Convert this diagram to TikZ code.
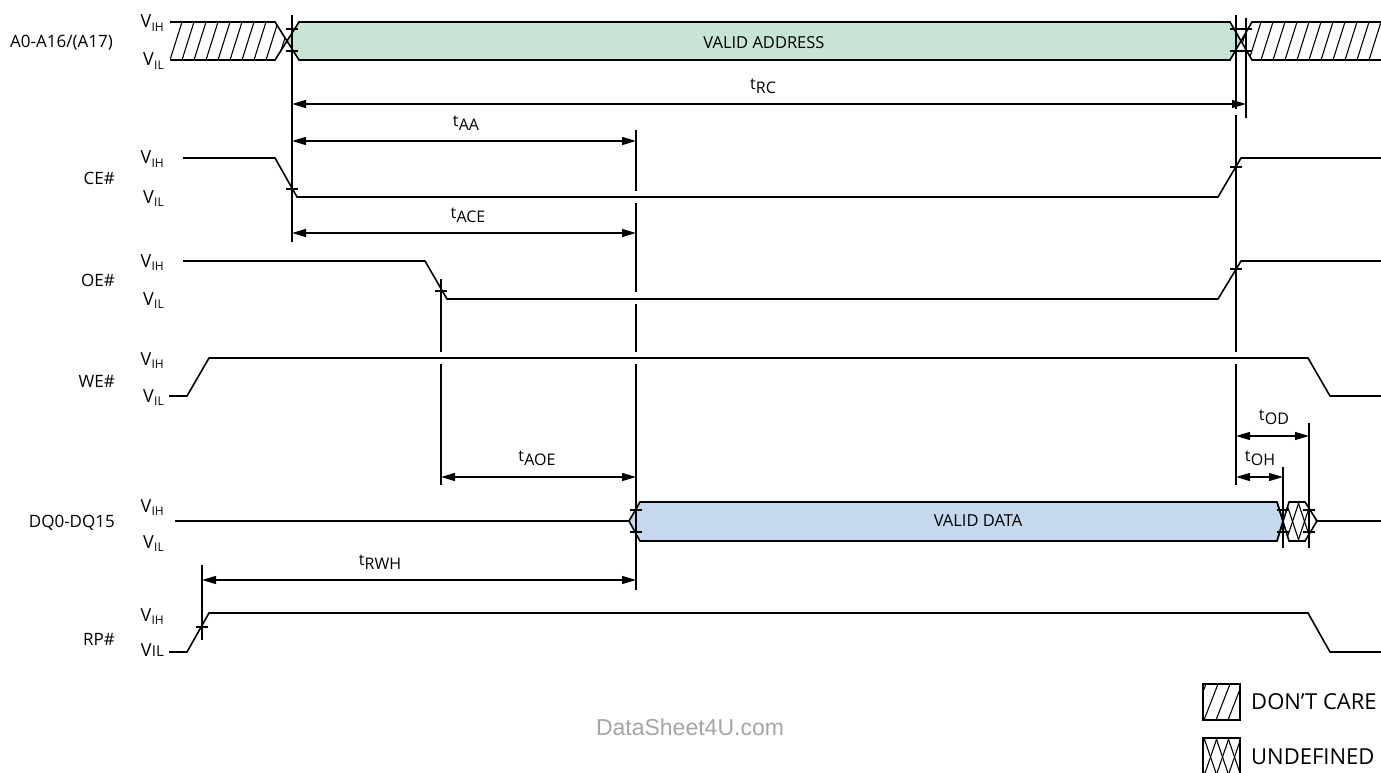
\documentclass[tikz,border=0pt]{standalone}
\usepackage{fontspec}
\setmainfont{Open Sans}
\newfontfamily\wmfont{Liberation Sans}
\usetikzlibrary{arrows.meta}
\definecolor{addrgreen}{RGB}{200,228,212}
\definecolor{datablue}{RGB}{197,216,238}
\definecolor{wmgray}{RGB}{165,165,165}
\newcommand\VV[1]{V\kern0.3pt\raisebox{-3.5pt}{\fontsize{12}{13}\selectfont #1}}
\newcommand\Tt[1]{t\kern0.3pt\raisebox{-4.5pt}{#1}}
\newcommand\tickat[2]{\draw[tickln] (#1,#2) ++(-6,0) -- ++(12,0);}
\begin{document}
\begin{tikzpicture}[x=1pt,y=-1pt,
  sig/.style={line width=1.6pt, line join=miter},
  tline/.style={line width=1.6pt},
  tickln/.style={line width=1.2pt},
  hatchln/.style={line width=1.1pt},
  dim/.style={line width=1.3pt, {Triangle[length=14pt,width=8pt]}-{Triangle[length=14pt,width=8pt]}},
  signame/.style={anchor=east, inner sep=0pt, font=\fontsize{17}{20}\selectfont},
  vlab/.style={anchor=base east, inner sep=0pt, font=\fontsize{18}{20}\selectfont},
  tlab/.style={anchor=south, inner sep=0pt, font=\fontsize{16}{18}\selectfont},
  boxtext/.style={inner sep=0pt, font=\fontsize{16.5}{18}\selectfont},
  legtext/.style={anchor=west, inner sep=0pt, font=\fontsize{22}{25}\selectfont},
]
\useasboundingbox (0,0) rectangle (1381,773);

% ---------------- signal names and levels ----------------
\node[signame] (nA)  at (113,43)  {A0-A16/(A17)};
\node[signame] (nCE) at (115,178) {CE\#};
\node[signame] (nOE) at (115,280) {OE\#};
\node[signame] (nWE) at (115,381) {WE\#};
\node[signame] (nDQ) at (115,523) {DQ0-DQ15};
\node[signame] (nRP) at (115,639) {RP\#};

\node[vlab] (vA1) at (164,28)  {\VV{IH}};
\node[vlab] (vA2) at (164,66)  {\VV{IL}};
\node[vlab] (vC1) at (164,164) {\VV{IH}};
\node[vlab] (vC2) at (164,203) {\VV{IL}};
\node[vlab] (vO1) at (164,267) {\VV{IH}};
\node[vlab] (vO2) at (164,305) {\VV{IL}};
\node[vlab] (vW1) at (164,365) {\VV{IH}};
\node[vlab] (vW2) at (164,402) {\VV{IL}};
\node[vlab] (vD1) at (164,512) {\VV{IH}};
\node[vlab] (vD2) at (164,548) {\VV{IL}};
\node[vlab] (vR1) at (164,621) {\VV{IH}};
\node[vlab] (vR2) at (164,656) {V\kern0.3pt{\fontsize{15}{16}\selectfont IL}};

% ---------------- address bus ----------------
\fill[addrgreen] (299,22) -- (1230,22) -- (1241,41) -- (1230,60) -- (299,60) -- (287,41) -- cycle;
\begin{scope}
  \clip (170,22) -- (275,22) -- (287,41) -- (275,60) -- (170,60) -- cycle;
  \foreach \x in {158,170,...,290} \draw[hatchln] (\x,60) -- (\x+12,22);
\end{scope}
\begin{scope}
  \clip (1252,22) -- (1381,22) -- (1381,60) -- (1252,60) -- (1241,41) -- cycle;
  \foreach \x in {1237,1249,...,1390} \draw[hatchln] (\x,60) -- (\x+12,22);
\end{scope}
\draw[sig] (170,22) -- (275,22) -- (299,60) -- (1230,60) -- (1252,22) -- (1381,22);
\draw[sig] (170,60) -- (275,60) -- (299,22) -- (1230,22) -- (1252,60) -- (1381,60);
\node[boxtext] (tAddr) at (764,43) {VALID ADDRESS};

% ---------------- CE#, OE#, WE# ----------------
\draw[sig] (183,158) -- (275,158) -- (297,197) -- (1218,197) -- (1241,158) -- (1381,158);
\draw[sig] (183,261) -- (425,261) -- (447,299) -- (1218,299) -- (1241,261) -- (1381,261);
\draw[sig] (169,396) -- (187,396) -- (209,358) -- (1308,358) -- (1330,396) -- (1381,396);

% ---------------- data bus ----------------
\draw[sig] (175,521) -- (629,521);
\filldraw[fill=datablue, sig] (629,521) -- (640,502) -- (1277,502) -- (1283,521) -- (1277,541) -- (640,541) -- cycle;
\node[boxtext] (tData) at (978,521) {VALID DATA};
\begin{scope}
  \clip (1283,521) -- (1289,502) -- (1305,502) -- (1317,521) -- (1305,541) -- (1289,541) -- cycle;
  \foreach \x in {1262,1274,...,1330} {
    \draw[hatchln] (\x,541) -- (\x+13,502);
    \draw[hatchln] (\x,502) -- (\x+13,541);
  }
\end{scope}
\draw[sig] (1277,502) -- (1289,541) -- (1305,541) -- (1317,521) -- (1305,502) -- (1289,502) -- (1277,541);
\draw[sig] (1317,521) -- (1381,521);

% ---------------- RP# ----------------
\draw[sig] (169,652) -- (187,652) -- (209,613) -- (1308,613) -- (1330,652) -- (1381,652);

% ---------------- timing reference lines ----------------
\coordinate (r1a) at (292,15);   \coordinate (r1b) at (292,242);
\draw[tline] (r1a) -- (r1b);
\draw[tline] (636,130) -- (636,191);
\draw[tline] (636,203) -- (636,292);
\draw[tline] (636,304) -- (636,352);
\draw[tline] (636,364) -- (636,590);
\draw[tline] (441,279) -- (441,352);
\draw[tline] (441,364) -- (441,485);
\draw[tline] (1236,15) -- (1236,109);
\draw[tline] (1236,115) -- (1236,352);
\draw[tline] (1236,364) -- (1236,485);
\draw[tline] (1246,18) -- (1246,118);
\draw[tline] (1283,467) -- (1283,548);
\draw[tline] (1309,423) -- (1309,548);
\draw[tline] (202,565) -- (202,640);

% ticks
\tickat{292}{29} \tickat{292}{51}
\tickat{1236}{29} \tickat{1236}{51}
\tickat{1246}{29} \tickat{1246}{51}
\tickat{292}{189} \tickat{1236}{167}
\tickat{441}{291} \tickat{1236}{269}
\tickat{636}{510} \tickat{636}{532}
\tickat{1283}{510} \tickat{1283}{532}
\tickat{1309}{510} \tickat{1309}{532}
\tickat{202}{627}

% ---------------- dimensions ----------------
\coordinate (rcL) at (292,104);  \coordinate (rcR) at (1246,104);
\coordinate (aaL) at (292,141);  \coordinate (aaR) at (636,141);
\coordinate (ceL) at (292,233);  \coordinate (ceR) at (636,233);
\coordinate (oeL) at (441,477);  \coordinate (oeR) at (636,477);
\coordinate (odL) at (1236,436); \coordinate (odR) at (1309,436);
\coordinate (ohL) at (1236,477); \coordinate (ohR) at (1283,477);
\coordinate (rwL) at (202,580);  \coordinate (rwR) at (636,580);
\draw[dim] (rcL) -- (rcR);
\draw[dim] (aaL) -- (aaR);
\draw[dim] (ceL) -- (ceR);
\draw[dim] (oeL) -- (oeR);
\draw[dim] (odL) -- (odR);
\draw[dim] (ohL) -- (ohR);
\draw[dim] (rwL) -- (rwR);

\node[tlab] (lRC)  at (763,94)   {\Tt{RC}};
\node[tlab] (lAA)  at (466,131)  {\Tt{AA}};
\node[tlab] (lACE) at (468,223)  {\Tt{ACE}};
\node[tlab] (lAOE) at (537,466)  {\Tt{AOE}};
\node[tlab] (lRWH) at (380,570)  {\Tt{RWH}};
\node[tlab] (lOD)  at (1274,425) {\Tt{OD}};
\node[tlab] (lOH)  at (1260,466) {\Tt{OH}};

% ---------------- legend ----------------
\begin{scope}
  \clip (1203,684) rectangle (1240,720);
  \foreach \x in {1192,1204,...,1244} \draw[hatchln] (\x,720) -- (\x+14,684);
\end{scope}
\draw[line width=1.3pt] (1203,684) rectangle (1240,720);
\node[legtext] (lgDC) at (1251,702) {DON’T CARE};

\begin{scope}
  \clip (1203,738) rectangle (1240,776);
  \foreach \x in {1180,1192,...,1250} {
    \draw[hatchln] (\x,776) -- (\x+13,738);
    \draw[hatchln] (\x,738) -- (\x+13,776);
  }
\end{scope}
\draw[line width=1.3pt] (1203,776) -- (1203,738) -- (1240,738) -- (1240,776);
\node[legtext] (lgUD) at (1251,757) {UNDEFINED};

% ---------------- watermark ----------------
\node[inner sep=0pt, text=wmgray, font=\wmfont\fontsize{23}{26}\selectfont] (wm) at (690,727) {DataSheet4U.com};
\end{tikzpicture}
\end{document}
